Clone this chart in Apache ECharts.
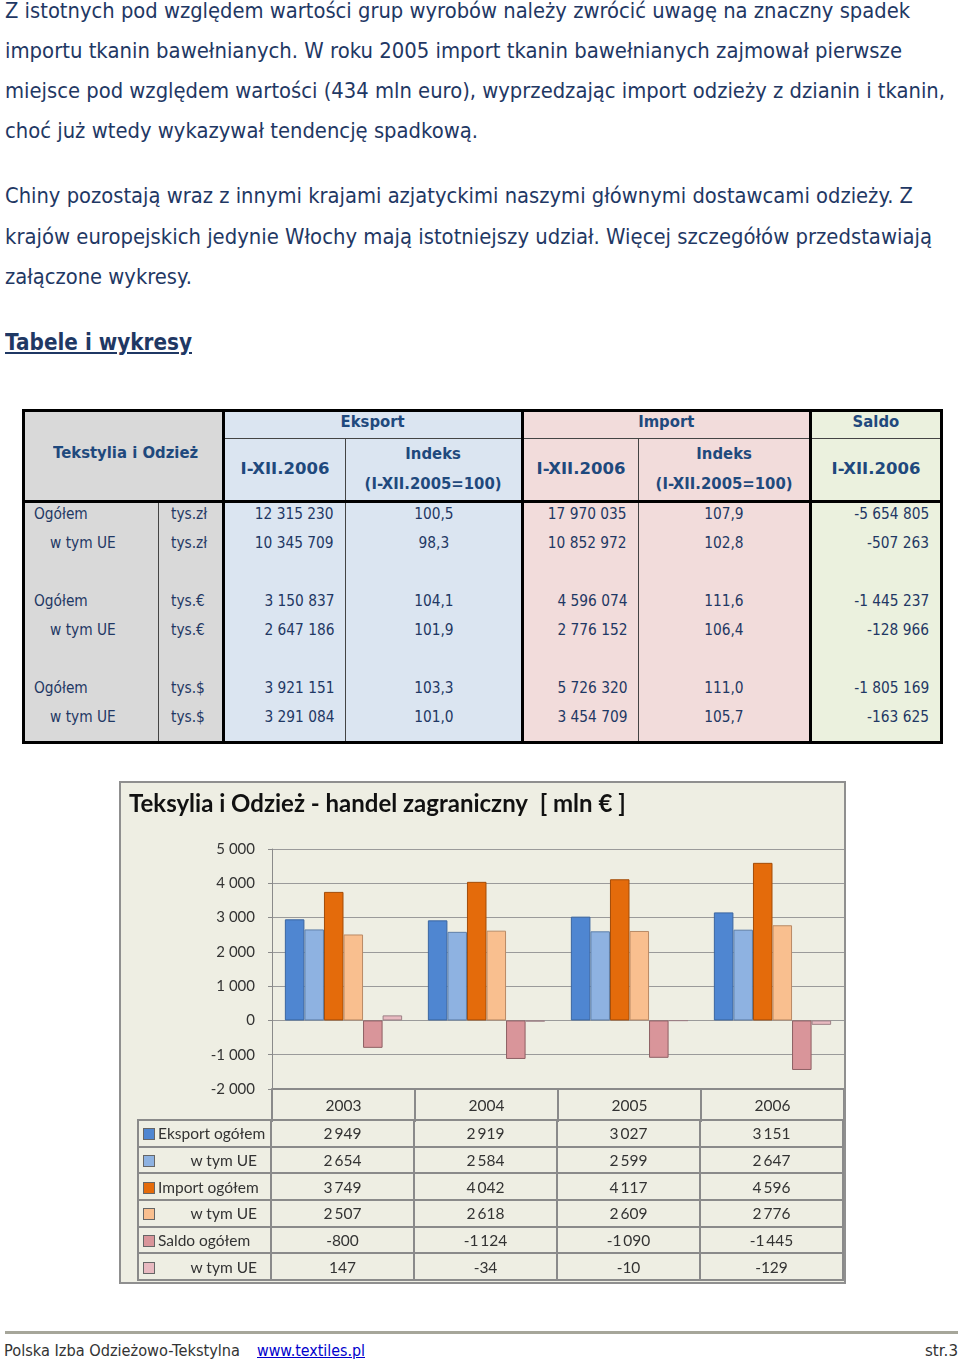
<!DOCTYPE html>
<html lang="pl">
<head>
<meta charset="utf-8">
<script src="https://cdn.jsdelivr.net/npm/echarts@6/dist/echarts.min.js"></script>
<style>
  html,body{margin:0;padding:0;background:#fff;}
  body{width:960px;height:1365px;position:relative;overflow:hidden;font-family:"DejaVu Sans",sans-serif;color:#1f3864;}
  .ln{position:absolute;left:5px;height:40px;line-height:40px;font-size:21px;white-space:nowrap;transform-origin:0 50%;color:#1f3864;}
  .hd{position:absolute;left:5px;top:326px;font-size:23px;font-weight:bold;text-decoration:underline;white-space:nowrap;transform-origin:0 50%;color:#1f3864;line-height:32px;}
  #tbl{position:absolute;left:22px;top:409px;border-collapse:collapse;table-layout:fixed;border:3px solid #000;}
  #tbl td{padding:0;font-size:16px;white-space:nowrap;overflow:visible;color:#1f3864;}
  #tbl td span{display:inline-block;transform:scaleX(0.86);}
  #tbl .h{font-weight:bold;text-align:center;color:#1f497d;font-size:16.5px;}
  #tbl .h span{transform:scaleX(0.9);}
  #tbl .h span.w{transform:scaleX(1.0);}
  #tbl .l span{transform-origin:0 50%;}
  #tbl .r span{transform-origin:100% 50%;}
  #tbl .c span{transform-origin:50% 50%;}
  .g{background:#d9d9d9;} .b{background:#dbe5f1;} .p{background:#f2dcdb;} .gr{background:#ebf1de;}
  #chartBox{position:absolute;left:119px;top:781px;width:723px;height:499px;border:2px solid #8f8f8f;background:#eeeee3;}
  #chart{position:absolute;left:0;top:0;width:723px;height:499px;}
  #dt{position:absolute;left:16px;top:336px;border-collapse:collapse;table-layout:fixed;}
  #dt td{border:2px solid #8a8a8a;height:24.7px;padding:0;font-family:Lato,sans-serif;font-size:15.5px;color:#333;text-align:center;white-space:nowrap;}
  #dt td.lg{text-align:left;padding-left:4px;}
  #dt .sw{display:inline-block;width:10px;height:10px;border:1px solid #666;vertical-align:-1px;margin-right:3px;}
  #dt .ind{display:inline-block;width:99px;text-align:right;}
  #footLine{position:absolute;left:5px;top:1331px;width:953px;height:3px;background:#a6a69a;}
  .ft{position:absolute;top:1340px;font-size:16px;line-height:22px;white-space:nowrap;color:#333;transform-origin:0 50%;}
</style>
</head>
<body>
<div class="ln" id="l1" style="top:-9px">Z istotnych pod względem wartości grup wyrobów należy zwrócić uwagę na znaczny spadek</div>
<div class="ln" id="l2" style="top:31px">importu tkanin bawełnianych. W roku 2005 import tkanin bawełnianych zajmował pierwsze</div>
<div class="ln" id="l3" style="top:71px">miejsce pod względem wartości (434 mln euro), wyprzedzając import odzieży z dzianin i tkanin,</div>
<div class="ln" id="l4" style="top:111px">choć już wtedy wykazywał tendencję spadkową.</div>
<div class="ln" id="l5" style="top:176px">Chiny pozostają wraz z innymi krajami azjatyckimi naszymi głównymi dostawcami odzieży. Z</div>
<div class="ln" id="l6" style="top:217px">krajów europejskich jedynie Włochy mają istotniejszy udział. Więcej szczegółów przedstawiają</div>
<div class="ln" id="l7" style="top:257px">załączone wykresy.</div>
<div class="hd" id="hd">Tabele i wykresy</div>

<table id="tbl"></table>

<div id="chartBox">
  <div id="chart"></div>
  <table id="dt"></table>
</div>

<div id="footLine"></div>
<div class="ft" id="f1" style="left:4px">Polska Izba Odzieżowo-Tekstylna</div>
<div class="ft" id="f2" style="left:257px;color:#0000cc;text-decoration:underline">www.textiles.pl</div>
<div class="ft" id="f3" style="left:925px">str.3</div>

<script>
// ---------- Data: summary table ----------
const rowLabels   = ['Ogółem','w tym UE','','Ogółem','w tym UE','','Ogółem','w tym UE'];
const rowUnits    = ['tys.zł','tys.zł','','tys.€','tys.€','','tys.$','tys.$'];
const eksportVal  = ['12 315 230','10 345 709','','3 150 837','2 647 186','','3 921 151','3 291 084'];
const eksportIdx  = ['100,5','98,3','','104,1','101,9','','103,3','101,0'];
const importVal   = ['17 970 035','10 852 972','','4 596 074','2 776 152','','5 726 320','3 454 709'];
const importIdx   = ['107,9','102,8','','111,6','106,4','','111,0','105,7'];
const saldoVal    = ['-5 654 805','-507 263','','-1 445 237','-128 966','','-1 805 169','-163 625'];

// ---------- Data: chart ----------
const years        = ['2003','2004','2005','2006'];
const eksportOgolem = [2949, 2919, 3027, 3151];
const eksportUE     = [2654, 2584, 2599, 2647];
const importOgolem  = [3749, 4042, 4117, 4596];
const importUE      = [2507, 2618, 2609, 2776];
const saldoOgolem   = [-800, -1124, -1090, -1445];
const saldoUE       = [147, -34, -10, -129];
const seriesNames   = ['Eksport ogółem','w tym UE','Import ogółem','w tym UE','Saldo ogółem','w tym UE'];

// ---------- fit text lines ----------
const targets = {l1:905,l2:897,l3:940,l4:473,l5:908,l6:927,l7:187,hd:187,f1:236,f2:108,f3:33};
// ---------- build summary table ----------
(function(){
  const t = document.getElementById('tbl');
  const widths=[135,65,122,177,116,172,131];
  let cg='<colgroup>'+widths.map(w=>`<col style="width:${w}px">`).join('')+'</colgroup>';
  const TH='3px solid #000', tn='1px solid #444';
  const p1='padding-bottom:7px;';
  let h='';
  h+=`<tr style="height:27px">
    <td class="h g c" colspan="2" rowspan="2" style="border-right:${TH};border-bottom:${TH};padding-bottom:8px;padding-left:4px"><span>Tekstylia i Odzież</span></td>
    <td class="h b c" colspan="2" style="border-right:${TH};border-bottom:${tn};${p1}"><span>Eksport</span></td>
    <td class="h p c" colspan="2" style="border-right:${TH};border-bottom:${tn};${p1}"><span>Import</span></td>
    <td class="h gr c" style="border-bottom:${tn};${p1}"><span>Saldo</span></td></tr>`;
  h+=`<tr style="height:58px">
    <td class="h b c" style="border-right:${tn};border-bottom:${TH};padding-bottom:3px"><span class="w">I-XII.2006</span></td>
    <td class="h b c" style="border-right:${TH};border-bottom:${TH};line-height:30px;padding-bottom:1px"><span>Indeks<br>(I-XII.2005=100)</span></td>
    <td class="h p c" style="border-right:${tn};border-bottom:${TH};padding-bottom:3px"><span class="w">I-XII.2006</span></td>
    <td class="h p c" style="border-right:${TH};border-bottom:${TH};line-height:30px;padding-bottom:1px"><span>Indeks<br>(I-XII.2005=100)</span></td>
    <td class="h gr c" style="border-bottom:${TH};padding-bottom:3px"><span class="w">I-XII.2006</span></td></tr>`;
  for(let i=0;i<rowLabels.length;i++){
    const last = i===rowLabels.length-1;
    const hh = last?35:29;
    const pad = rowLabels[i]==='w tym UE'?'25px':'9px';
    const st='vertical-align:top;line-height:22px;padding-bottom:'+(last?13:7)+'px;';
    h+=`<tr style="height:${hh}px">
      <td class="g l" style="padding-left:${pad};border-right:${tn};${st}"><span>${rowLabels[i]}</span></td>
      <td class="g l" style="padding-left:12px;border-right:${TH};${st}"><span>${rowUnits[i]}</span></td>
      <td class="b r" style="text-align:right;padding-right:11px;border-right:${tn};${st}"><span>${eksportVal[i]}</span></td>
      <td class="b c" style="text-align:center;border-right:${TH};${st}"><span>${eksportIdx[i]}</span></td>
      <td class="p r" style="text-align:right;padding-right:11px;border-right:${tn};${st}"><span>${importVal[i]}</span></td>
      <td class="p c" style="text-align:center;border-right:${TH};${st}"><span>${importIdx[i]}</span></td>
      <td class="gr r" style="text-align:right;padding-right:11px;${st}"><span>${saldoVal[i]}</span></td></tr>`;
  }
  t.innerHTML = cg+h;
})();

// ---------- chart data table ----------
const seriesData = [eksportOgolem, eksportUE, importOgolem, importUE, saldoOgolem, saldoUE];
const colors  = ['#4f86d1','#8eb2e1','#e46b0b','#f9bf8f','#d9959a','#e8b9c0'];
const borders = ['#3a65a0','#5e7fa8','#a34c08','#b98a66','#8e6064','#9c8086'];
function fmt(v){ const s=Math.abs(v).toString().replace(/\B(?=(\d{3})+(?!\d))/g,'\u2009'); return (v<0?'-':'')+s; }
(function(){
  const t=document.getElementById('dt');
  let h='<colgroup><col style="width:133px">'+years.map(()=>'<col style="width:143px">').join('')+'</colgroup>';
  seriesNames.forEach((n,i)=>{
    const lbl = (n==='w tym UE') ? `<span class="sw" style="background:${colors[i]}"></span><span class="ind">${n}</span>` : `<span class="sw" style="background:${colors[i]}"></span>${n}`;
    h+=`<tr><td class="lg">${lbl}</td>`+seriesData[i].map(v=>`<td>${fmt(v)}</td>`).join('')+'</tr>';
  });
  t.innerHTML=h;
})();

const chart = echarts.init(document.getElementById('chart'), null, {renderer:'canvas'});
chart.setOption({
  animation:false,
  backgroundColor:'transparent',
  title:{text:'Teksylia i Odzież - handel zagraniczny  [ mln € ]',left:8,top:9,padding:0,
    textStyle:{fontFamily:'Lato',fontWeight:'bold',fontSize:24,color:'#111'}},
  grid:{left:151,top:66,width:573,height:240},
  xAxis:{type:'category',data:years,position:'bottom',
    axisLine:{onZero:false,lineStyle:{color:'#8a8a8a',width:2}},
    axisTick:{show:true,length:33,interval:0,lineStyle:{color:'#8a8a8a',width:2}},
    axisLabel:{margin:9,fontFamily:'Lato',fontSize:15.5,color:'#333'}},
  yAxis:{type:'value',min:-2000,max:5000,interval:1000,
    axisLine:{show:true,lineStyle:{color:'#8a8a8a',width:1}},
    axisTick:{show:true,length:4,lineStyle:{color:'#8a8a8a'}},
    splitLine:{lineStyle:{color:'#9a9a9a',width:1}},
    axisLabel:{margin:17,fontFamily:'Lato',fontSize:15,color:'#333',formatter:v=>fmt(v).replace('\u2009',' ')}},
  series: seriesData.map((d,i)=>({
    name:seriesNames[i],type:'bar',data:d,barGap:'0%',barCategoryGap:'18%',
    itemStyle:{color:colors[i],borderColor:borders[i],borderWidth:1}
  }))
});

// fit widths
Object.keys(targets).forEach(id=>{
  const el=document.getElementById(id);
  const w=el.getBoundingClientRect().width;
  el.style.transform=`scaleX(${targets[id]/w})`;
});
</script>
</body>
</html>
